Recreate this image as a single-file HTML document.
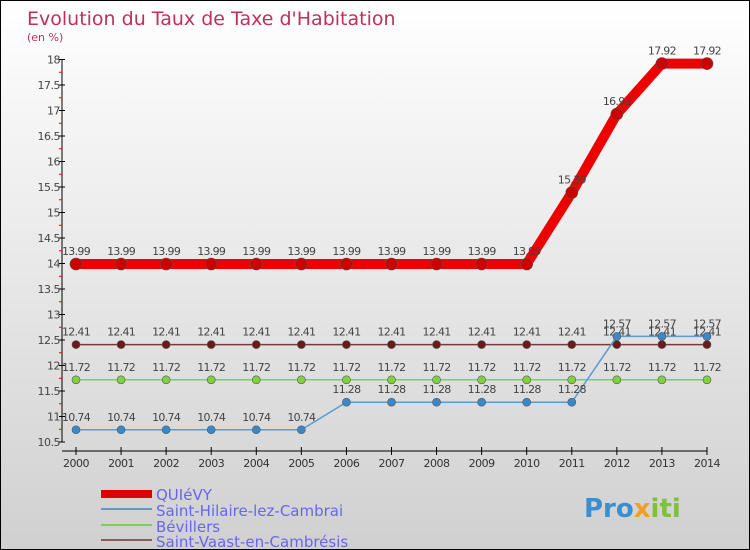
<!DOCTYPE html>
<html><head><meta charset="utf-8"><style>
body{margin:0}
#c{width:750px;height:550px;position:relative;overflow:hidden;box-sizing:border-box;border:1px solid #000;background:linear-gradient(#ffffff,#d0d0d0);font-family:"DejaVu Sans","Liberation Sans",sans-serif}
svg text{font-family:"DejaVu Sans","Liberation Sans",sans-serif}
</style></head><body>
<div id="c">
<svg id="s" width="750" height="550">
<text x="26" y="24" font-size="19" fill="#c0305a">Evolution du Taux de Taxe d'Habitation</text>
<text x="26" y="40" font-size="11" fill="#c0305a">(en %)</text>
<g id="ax"></g><g id="ser"></g>
<g>
<rect x="100" y="489" width="51" height="8" fill="#e00000"/>
<text x="155" y="499" font-size="15" fill="#6666ee">QUIéVY</text>
<rect x="100" y="507" width="51" height="2" fill="#5b9bd0"/>
<text x="155" y="515" font-size="15" fill="#6666ee">Saint-Hilaire-lez-Cambrai</text>
<rect x="100" y="523" width="51" height="2" fill="#80d050"/>
<text x="155" y="531" font-size="15" fill="#6666ee">Bévillers</text>
<rect x="100" y="538" width="51" height="2" fill="#8b5a5a"/>
<text x="155" y="546" font-size="15" fill="#6666ee">Saint-Vaast-en-Cambrésis</text>
</g>
<text x="583" y="516" font-size="26" font-weight="bold" fill="#3a8fd0">Pro<tspan fill="#f0a020">x</tspan><tspan fill="#80c040">iti</tspan></text>
</svg></div>
<script>
const years=[2000,2001,2002,2003,2004,2005,2006,2007,2008,2009,2010,2011,2012,2013,2014];
const yTicks=[10.5,11,11.5,12,12.5,13,13.5,14,14.5,15,15.5,16,16.5,17,17.5,18];
const quievy=[13.99,13.99,13.99,13.99,13.99,13.99,13.99,13.99,13.99,13.99,13.99,15.39,16.93,17.92,17.92];
const hilaire=[10.74,10.74,10.74,10.74,10.74,10.74,11.28,11.28,11.28,11.28,11.28,11.28,12.57,12.57,12.57];
const bevillers=[11.72,11.72,11.72,11.72,11.72,11.72,11.72,11.72,11.72,11.72,11.72,11.72,11.72,11.72,11.72];
const vaast=[12.41,12.41,12.41,12.41,12.41,12.41,12.41,12.41,12.41,12.41,12.41,12.41,12.41,12.41,12.41];
const NS="http://www.w3.org/2000/svg";
const X=i=>75+i*45.07;
const Y=v=>441-(v-10.5)*51;
function mk(t,a,p){const e=document.createElementNS(NS,t);for(const k in a)e.setAttribute(k,a[k]);p.appendChild(e);return e;}
const ax=document.getElementById('ax'),ser=document.getElementById('ser');
let l=mk('line',{x1:61,y1:Y(18),x2:61,y2:Y(10.5),stroke:'#000'},ax);


yTicks.forEach(v=>{
 mk('line',{x1:58,x2:64,y1:Y(v),y2:Y(v),stroke:'#000'},ax);
 if(v<18)mk('line',{x1:58,x2:61,y1:Y(v+0.25),y2:Y(v+0.25),stroke:'#f00'},ax);
 const t=mk('text',{x:59,y:Y(v)+4,'font-size':11,fill:'#444','text-anchor':'end','letter-spacing':'-0.5'},ax);
 t.textContent=String(v);
 
 
});
l=mk('line',{x1:61,y1:450,x2:X(14),y2:450,stroke:'#000'},ax);


years.forEach((y,i)=>{
 mk('line',{x1:X(i),x2:X(i),y1:446,y2:454,stroke:'#000'},ax);
 const t=mk('text',{x:X(i),y:466,'font-size':11,fill:'#333','text-anchor':'middle','letter-spacing':'-0.5'},ax);
 t.textContent=y;
 
 
});
function series(d,col,w,r,fill,name){
 const g=mk('g',{},ser);
 
 
 const p=mk('polyline',{points:d.map((v,i)=>X(i)+','+Y(v)).join(' '),fill:'none',stroke:col,'stroke-width':w},g);
 
 
 d.forEach((v,i)=>{
  const c=mk('circle',{cx:X(i),cy:Y(v),r:r,fill:fill,stroke:'#555','stroke-width':0.6},g);
  
  
  const t=mk('text',{x:X(i),y:Y(v)-9,'font-size':11,fill:'#444','text-anchor':'middle','letter-spacing':'-0.7'},g);
  t.textContent=v.toFixed(2).replace(/0$/,'').replace(/\.$/,'');
  
  
 });
}
series(vaast,'#7a3a3a',1.5,4,'#6a1a1a','saint-vaast');
series(bevillers,'#80d050',1.5,4,'#80d040','bevillers');
series(hilaire,'#5b9bd0',1.5,4,'#3a88c8','saint-hilaire');
series(quievy,'#ee0000',10,6,'#cc0000','quievy');
</script>
</body></html>
